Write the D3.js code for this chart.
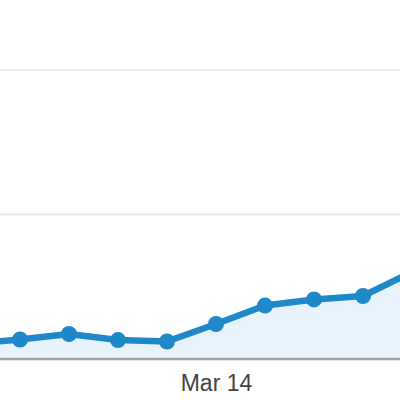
<!DOCTYPE html>
<html>
<head>
<meta charset="utf-8">
<script src="https://cdn.jsdelivr.net/npm/d3@7"></script>
<style>
html,body{margin:0;padding:0;background:#fff;overflow:hidden;}
svg{display:block;}
</style>
</head>
<body>
<svg id="chart" width="400" height="400"></svg>
<script>
// Data
const dates = ["2013-03-09","2013-03-10","2013-03-11","2013-03-12","2013-03-13","2013-03-14","2013-03-15","2013-03-16","2013-03-17","2013-03-18"];
const values = [1040, 1350, 1730, 1310, 1210, 2420, 3700, 4120, 4360, 6020];
const gridValues = [10000, 20000];
const tickDates = ["2013-03-14"];

const parse = d3.timeParse("%Y-%m-%d");
const data = dates.map((d, i) => ({date: parse(d), value: values[i]}));

const svg = d3.select("#chart");

const x = d3.scaleTime()
  .domain([parse(dates[0]), parse(dates[dates.length - 1])])
  .range([-29, 412]);

const y = d3.scaleLinear()
  .domain([0, 20000])
  .range([359, 70]);

// gridlines
svg.append("g")
  .selectAll("line")
  .data(gridValues)
  .join("line")
  .attr("x1", 0).attr("x2", 400)
  .attr("y1", d => y(d)).attr("y2", d => y(d))
  .attr("stroke", "#ebebeb")
  .attr("stroke-width", 2);

// area
const area = d3.area()
  .x(d => x(d.date))
  .y0(y(0))
  .y1(d => y(d.value));

svg.append("path")
  .datum(data)
  .attr("d", area)
  .attr("fill", "#e8f2fa");

// x axis
const xAxis = d3.axisBottom(x)
  .tickValues(tickDates.map(parse))
  .tickFormat(d3.timeFormat("%b %-d"))
  .tickSize(0)
  .tickPadding(16);

const gx = svg.append("g")
  .attr("transform", `translate(0,${y(0)})`)
  .call(xAxis);
gx.select(".domain").remove();
gx.selectAll("text")
  .attr("fill", "#444")
  .style("font-family", "'Liberation Sans', Arial, sans-serif")
  .style("font-size", "23px");

svg.append("line")
  .attr("x1", 0).attr("x2", 400)
  .attr("y1", y(0)).attr("y2", y(0))
  .attr("stroke", "#a3a3a3")
  .attr("stroke-width", 2.5);

// line
const line = d3.line()
  .x(d => x(d.date))
  .y(d => y(d.value));

svg.append("path")
  .datum(data)
  .attr("d", line)
  .attr("fill", "none")
  .attr("stroke", "#1e88c9")
  .attr("stroke-width", 6.5)
  .attr("stroke-linejoin", "round");

// points
svg.append("g")
  .selectAll("circle")
  .data(data)
  .join("circle")
  .attr("cx", d => x(d.date))
  .attr("cy", d => y(d.value))
  .attr("r", 8)
  .attr("fill", "#1e88c9");
</script>
</body>
</html>
